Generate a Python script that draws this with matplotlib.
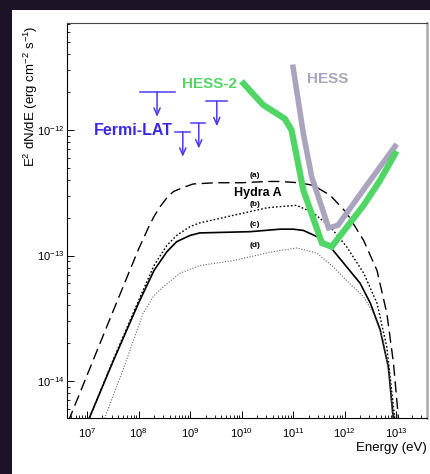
import numpy as np
import matplotlib
matplotlib.use('Agg')
import matplotlib.pyplot as plt
from matplotlib.patches import Rectangle

plt.rcParams['font.family'] = ['Liberation Sans', 'DejaVu Sans']
plt.rcParams['mathtext.default'] = 'regular'

# model curves for Hydra A, log10(E/eV) and log10(E^2 dN/dE)
logE_a = [6.64, 7.5, 8.0, 8.2, 8.3, 8.42, 8.55, 8.68, 8.85, 9.06, 9.5, 10.0, 10.5, 10.75,
          11.1, 11.39, 11.72, 12.04, 12.37, 12.63, 12.82, 12.95, 13.05]
logF_a = [-14.32, -13.45, -12.95, -12.77, -12.69, -12.61, -12.54, -12.49, -12.46, -12.43,
          -12.42, -12.42, -12.41, -12.41, -12.42, -12.44, -12.52, -12.66, -12.88, -13.12,
          -13.46, -13.86, -14.32]

logE_b = [7.02, 7.5, 8.0, 8.3, 8.55, 8.74, 9.0, 9.19, 9.84, 10.49, 10.75, 11.07, 11.39,
          11.72, 12.04, 12.37, 12.63, 12.82, 12.98]
logF_b = [-14.32, -13.84, -13.36, -13.08, -12.92, -12.84, -12.77, -12.74, -12.68, -12.62,
          -12.61, -12.60, -12.66, -12.77, -12.93, -13.14, -13.38, -13.73, -14.32]

logE_c = [7.02, 7.5, 8.0, 8.3, 8.55, 8.74, 9.0, 9.19, 10.17, 10.75, 11.0, 11.2, 11.52,
          11.78, 12.04, 12.30, 12.50, 12.69, 12.85, 12.95]
logF_c = [-14.32, -13.85, -13.38, -13.12, -12.97, -12.89, -12.84, -12.82, -12.81, -12.79,
          -12.79, -12.80, -12.86, -12.96, -13.09, -13.22, -13.38, -13.59, -13.89, -14.32]

logE_d = [7.32, 7.7, 8.09, 8.3, 8.48, 8.81, 9.19, 9.84, 10.49, 10.75, 11.07, 11.46, 11.78,
          12.04, 12.37, 12.56, 12.75, 12.88, 12.94]
logF_d = [-14.32, -13.91, -13.46, -13.32, -13.25, -13.14, -13.08, -13.04, -12.98, -12.96,
          -12.94, -12.98, -13.09, -13.20, -13.33, -13.46, -13.67, -13.99, -14.32]

# sensitivity curves
logE_hess2 = [10.04, 10.42, 10.84, 10.97, 11.20, 11.56, 11.75, 12.37, 12.69, 12.98]
logF_hess2 = [-11.63, -11.80, -11.91, -12.00, -12.48, -12.90, -12.93, -12.60, -12.40, -12.19]

logE_hess = [11.0, 11.20, 11.36, 11.69, 11.87, 12.50, 12.98]
logF_hess = [-11.50, -12.03, -12.37, -12.78, -12.76, -12.40, -12.13]

# Fermi-LAT upper limits
ul_lo = [8.02, 8.71, 9.01, 9.31]
ul_hi = [8.70, 9.00, 9.30, 9.71]
ul_mid = [8.36, 8.86, 9.17, 9.52]
ul_flux = [-11.695, -12.013, -11.947, -11.77]

curve_labels = ['(a)', '(b)', '(c)', '(d)']
curve_label_y = [-12.36, -12.59, -12.75, -12.92]

x_decades = [7, 8, 9, 10, 11, 12, 13]
y_decades = [-14, -13, -12]

fermi_col = '#4a3cf0'
green = '#4fd665'
grey = '#aaa4bf'

fig = plt.figure(figsize=(4.31, 4.74), dpi=100, facecolor='#1d1327')
fig.add_artist(Rectangle((12 / 431, 0), 1, 464 / 474, transform=fig.transFigure,
                         facecolor='white', edgecolor='none', zorder=0))
ax = fig.add_axes([67 / 431, 56 / 474, 360 / 431, 395 / 474])

p = lambda v: np.power(10.0, v)

ax.plot(p(logE_a), p(logF_a), color='black', lw=1.0, dashes=(8, 4))
ax.plot(p(logE_b), p(logF_b), color='black', lw=1.0, dashes=(1.2, 1.5))
ax.plot(p(logE_c), p(logF_c), color='black', lw=1.2)
ax.plot(p(logE_d), p(logF_d), color='#666666', lw=0.8, dashes=(1, 1.5))

ax.plot(p(logE_hess), p(logF_hess), color=grey, lw=4.0, solid_joinstyle='miter')
ax.plot(p(logE_hess2), p(logF_hess2), color=green, lw=4.5, solid_joinstyle='miter')

# upper limits
for lo, hi, mid, f in zip(ul_lo, ul_hi, ul_mid, ul_flux):
    ax.plot([p(lo), p(hi)], [p(f), p(f)], color=fermi_col, lw=1.1)
    ax.annotate('', xy=(p(mid), p(f - 0.2)), xytext=(p(mid), p(f)),
                arrowprops=dict(arrowstyle='->,head_length=0.5,head_width=0.22',
                                color=fermi_col, lw=1.1, shrinkA=0, shrinkB=0))

ax.text(p(8.67), p(-12.0), 'Fermi-LAT', color='#3a28e6', fontsize=11.5,
        fontweight='bold', ha='right', va='center')
ax.text(p(8.845), p(-11.63), 'HESS-2', color=green, fontsize=11,
        fontweight='bold', ha='left', va='center')
ax.text(p(11.27), p(-11.59), 'HESS', color=grey, fontsize=11,
        fontweight='bold', ha='left', va='center')
ax.text(p(10.31), p(-12.50), 'Hydra A', color='black', fontsize=9,
        fontweight='bold', ha='center', va='center')
for lab, y in zip(curve_labels, curve_label_y):
    ax.text(p(10.26), p(y), lab, fontsize=6, fontweight='bold', ha='center', va='center')

ax.set_xscale('log')
ax.set_yscale('log')
ax.set_xticks(p(np.array(x_decades, dtype=float)))
ax.set_yticks(p(np.array(y_decades, dtype=float)))
ax.set_xlim(p(6.612), p(13.60))
ax.set_ylim(p(-14.295), p(-11.147))

ax.tick_params(which='both', direction='in', top=False, right=False, labelsize=8)
ax.tick_params(which='major', length=5, width=0.7)
ax.tick_params(which='minor', length=2.5, width=0.6)
ax.tick_params(axis='x', pad=6)
ax.tick_params(axis='y', pad=2)

for s in ['left', 'bottom', 'top']:
    ax.spines[s].set_linewidth(0.8)
ax.spines['top'].set_color('#444444')
ax.spines['right'].set_color('#aaaaaa')
ax.spines['right'].set_linewidth(1.8)

ax.set_xlabel('Energy (eV)', fontsize=9.5, loc='right')
ax.xaxis.set_label_coords(1.0, -0.06)
ax.set_ylabel('E$^{2}$ dN/dE (erg cm$^{-2}$ s$^{-1}$)', fontsize=9.5, loc='top')
ax.yaxis.set_label_coords(-0.076, 0.995)

fig.savefig('out.png', dpi=100, facecolor=fig.get_facecolor())
